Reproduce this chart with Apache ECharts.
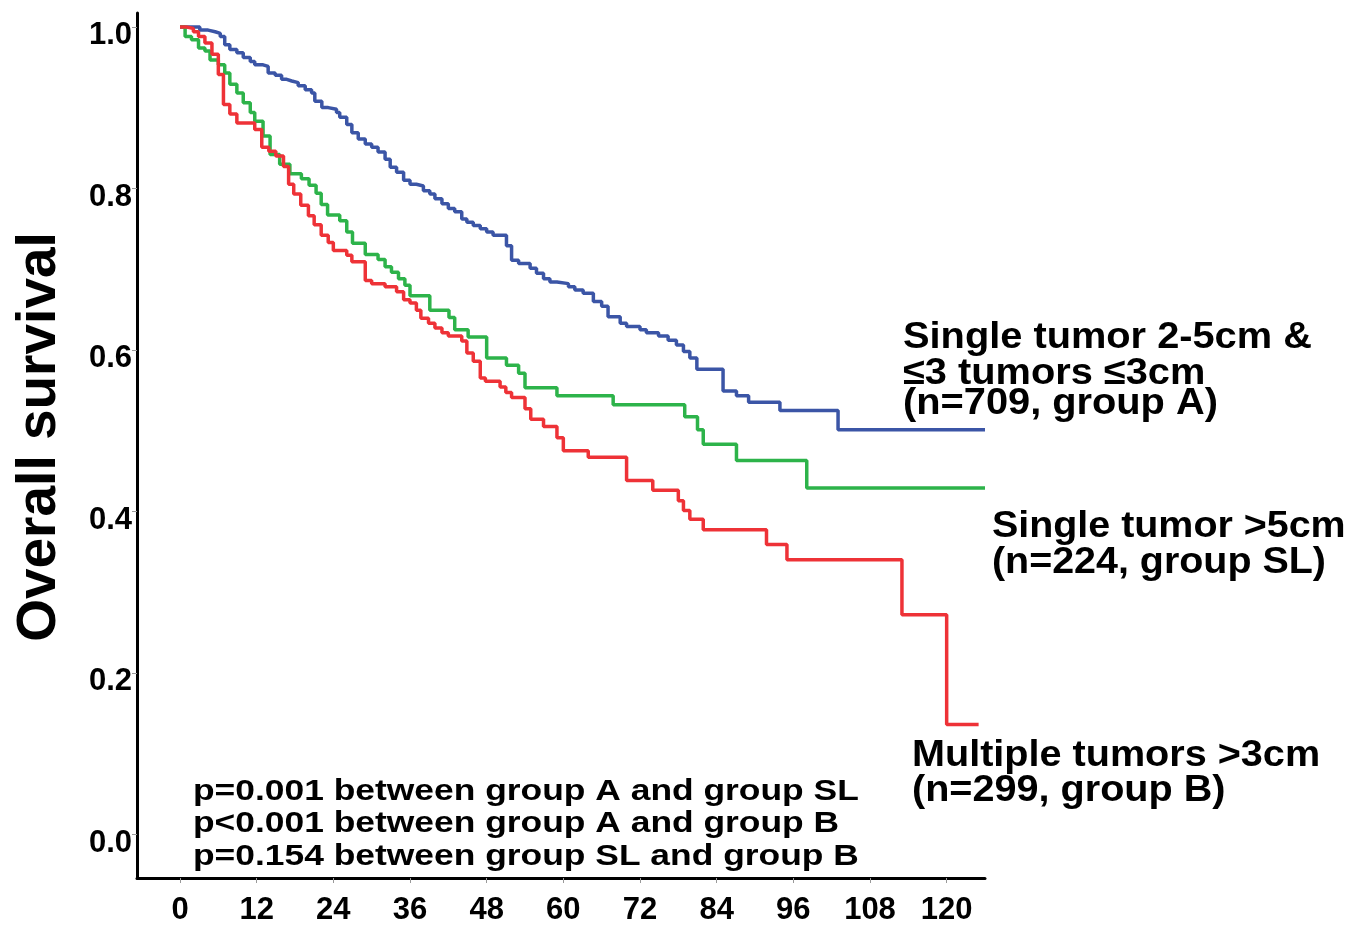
<!DOCTYPE html>
<html>
<head>
<meta charset="utf-8">
<script src="https://cdn.jsdelivr.net/npm/echarts@6/dist/echarts.min.js"></script>
<style>
html,body{margin:0;padding:0;background:#fff;}
#chart{width:1363px;height:926px;}
</style>
</head>
<body>
<div id="chart"></div>
<script>
// ---- Data (months, overall survival) ----
const timesA = [0, 3.1, 4.4, 5.5, 6.3, 7.0, 7.8, 8.9, 9.9, 11.0, 11.7, 13.0, 13.8, 14.9, 15.9, 16.7, 17.5, 18.5, 19.6, 20.6, 21.1, 22.2, 23.2, 24.5, 25.0, 26.1, 26.9, 27.9, 29.0, 30.0, 31.0, 32.1, 32.9, 33.9, 35.0, 36.0, 37.0, 38.1, 39.1, 39.9, 41.0, 42.0, 43.0, 44.1, 44.9, 45.9, 47.0, 48.0, 49.0, 51.1, 51.9, 53.0, 54.8, 55.8, 56.9, 57.9, 59.0, 60.8, 61.8, 63.1, 64.7, 66.0, 67.0, 68.9, 69.9, 72.0, 73.0, 74.9, 76.4, 77.7, 78.8, 79.8, 80.9, 85.0, 87.1, 89.0, 93.9, 103.0, 126.0];
const survA = [1.000, 0.996, 0.994, 0.992, 0.988, 0.978, 0.972, 0.968, 0.962, 0.957, 0.953, 0.951, 0.943, 0.940, 0.935, 0.933, 0.931, 0.927, 0.922, 0.918, 0.908, 0.900, 0.898, 0.894, 0.888, 0.879, 0.869, 0.861, 0.855, 0.851, 0.845, 0.836, 0.826, 0.820, 0.810, 0.805, 0.803, 0.797, 0.793, 0.787, 0.781, 0.775, 0.771, 0.762, 0.758, 0.754, 0.750, 0.746, 0.742, 0.729, 0.711, 0.707, 0.701, 0.695, 0.688, 0.684, 0.682, 0.678, 0.674, 0.670, 0.660, 0.654, 0.641, 0.633, 0.629, 0.625, 0.621, 0.617, 0.612, 0.606, 0.598, 0.590, 0.576, 0.549, 0.543, 0.535, 0.525, 0.501, 0.501];

const timesSL = [0, 0.8, 1.8, 2.9, 3.9, 4.7, 6.0, 7.0, 7.8, 8.9, 9.9, 11.0, 11.7, 13.0, 14.1, 15.6, 17.2, 19.0, 20.2, 21.3, 22.1, 23.1, 25.0, 26.1, 27.0, 29.0, 31.0, 32.1, 33.1, 34.2, 35.2, 36.0, 39.1, 42.1, 43.0, 45.1, 48.0, 51.1, 53.0, 54.0, 59.0, 67.8, 79.0, 81.0, 81.9, 87.1, 98.1, 126.0];
const survSL = [1.000, 0.988, 0.984, 0.974, 0.970, 0.959, 0.953, 0.943, 0.929, 0.918, 0.906, 0.894, 0.883, 0.865, 0.842, 0.830, 0.818, 0.812, 0.804, 0.794, 0.780, 0.767, 0.760, 0.746, 0.732, 0.718, 0.712, 0.703, 0.696, 0.688, 0.680, 0.667, 0.649, 0.640, 0.625, 0.616, 0.590, 0.581, 0.571, 0.553, 0.543, 0.532, 0.517, 0.501, 0.483, 0.463, 0.429, 0.429];

const timesB = [0, 1.0, 2.1, 2.9, 3.9, 5.0, 6.0, 6.8, 7.8, 8.9, 11.7, 12.8, 13.9, 15.0, 16.2, 17.0, 17.8, 18.9, 20.1, 21.0, 22.1, 23.2, 24.0, 26.1, 26.9, 29.0, 30.0, 32.1, 33.9, 35.0, 36.0, 37.0, 37.7, 38.9, 39.9, 41.0, 42.0, 44.1, 44.9, 45.9, 47.0, 47.8, 50.1, 51.0, 51.9, 54.0, 54.9, 56.9, 59.0, 60.0, 63.9, 69.9, 74.0, 78.0, 78.8, 79.8, 81.9, 91.8, 95.0, 113.0, 120.0, 125.0];
const survB = [1.000, 0.998, 0.994, 0.988, 0.980, 0.966, 0.941, 0.904, 0.892, 0.881, 0.873, 0.851, 0.846, 0.840, 0.827, 0.805, 0.793, 0.779, 0.766, 0.755, 0.742, 0.733, 0.723, 0.717, 0.709, 0.686, 0.682, 0.678, 0.672, 0.662, 0.658, 0.649, 0.639, 0.633, 0.627, 0.621, 0.617, 0.611, 0.596, 0.586, 0.565, 0.561, 0.554, 0.547, 0.541, 0.527, 0.514, 0.505, 0.491, 0.475, 0.467, 0.438, 0.426, 0.413, 0.401, 0.390, 0.377, 0.359, 0.340, 0.272, 0.136, 0.136];

const xTicks = [0, 12, 24, 36, 48, 60, 72, 84, 96, 108, 120];
const yTicks = [0, 0.2, 0.4, 0.6, 0.8, 1.0];

const yTitle = 'Overall survival';
const labelA = ['Single tumor 2-5cm &', '≤3 tumors ≤3cm', '(n=709, group A)'];
const labelSL = ['Single tumor >5cm', '(n=224, group SL)'];
const labelB = ['Multiple tumors >3cm', '(n=299, group B)'];
const pLines = ['p=0.001 between group A and group SL', 'p<0.001 between group A and group B', 'p=0.154 between group SL and group B'];

// ---- helpers ----
function zip(t, s) {
  const n = Math.min(t.length, s.length);
  const out = [];
  for (let i = 0; i < n; i++) out.push([t[i], s[i]]);
  return out;
}
const FONT = '"Liberation Sans", Arial, Helvetica, sans-serif';

function textEl(str, x, y, size, scaleX) {
  return {
    type: 'text', x: x, y: y, scaleX: scaleX || 1, silent: true,
    style: { text: str, fontFamily: FONT, fontWeight: 'bold', fontSize: size,
             fill: '#000', align: 'left', verticalAlign: 'middle' }
  };
}

const graphics = [];
graphics.push({
  type: 'text', x: 40, y: 437, rotation: Math.PI / 2, silent: true,
  style: { text: yTitle, fontFamily: FONT, fontWeight: 'bold', fontSize: 55,
           fill: '#000', align: 'center', verticalAlign: 'middle' }
});
const annY_A = [338, 374, 404];
labelA.forEach((s, i) => graphics.push(textEl(s, 903, annY_A[i], 37, 1.075)));
const annY_SL = [527, 563];
labelSL.forEach((s, i) => graphics.push(textEl(s, 992, annY_SL[i], 37, 1.065)));
const annY_B = [756, 791];
labelB.forEach((s, i) => graphics.push(textEl(s, 912, annY_B[i], 37, 1.07)));
const pY = [792, 824, 857];
pLines.forEach((s, i) => graphics.push(textEl(s, 193, pY[i], 30, 1.18)));

const chart = echarts.init(document.getElementById('chart'), null, { renderer: 'canvas' });
chart.setOption({
  animation: false,
  backgroundColor: '#fff',
  grid: { left: 137, top: 13, width: 848, height: 870 },
  xAxis: {
    type: 'value', min: -6.73, max: 126.0,
    splitLine: { show: false },
    axisLine: { show: true, onZero: false, lineStyle: { color: '#000', width: 3 } },
    axisTick: { show: true, customValues: xTicks, length: 5, lineStyle: { color: '#999', width: 1 } },
    axisLabel: { customValues: xTicks, fontFamily: FONT, fontWeight: 'bold', fontSize: 31, color: '#000', margin: 17 }
  },
  yAxis: {
    type: 'value', min: -0.0542, max: 1.0172,
    splitLine: { show: false },
    axisLine: { show: true, onZero: false, lineStyle: { color: '#000', width: 3 } },
    axisTick: { show: true, customValues: yTicks, length: 5, lineStyle: { color: '#999', width: 1 } },
    axisLabel: {
      customValues: yTicks, margin: 5,
      formatter: v => '{v|' + v.toFixed(1) + '}',
      rich: { v: { fontFamily: FONT, fontWeight: 'bold', fontSize: 31, color: '#000', padding: [18, 0, 0, 0] } }
    }
  },
  series: [
    { name: 'group A', type: 'line', step: 'end', showSymbol: false, data: zip(timesA, survA),
      lineStyle: { color: '#3b55a6', width: 3.5 }, itemStyle: { color: '#3b55a6' } },
    { name: 'group SL', type: 'line', step: 'end', showSymbol: false, data: zip(timesSL, survSL),
      lineStyle: { color: '#2db34a', width: 3.5 }, itemStyle: { color: '#2db34a' } },
    { name: 'group B', type: 'line', step: 'end', showSymbol: false, data: zip(timesB, survB),
      lineStyle: { color: '#ee3237', width: 3.5 }, itemStyle: { color: '#ee3237' } }
  ],
  graphic: graphics
});
</script>
</body>
</html>
